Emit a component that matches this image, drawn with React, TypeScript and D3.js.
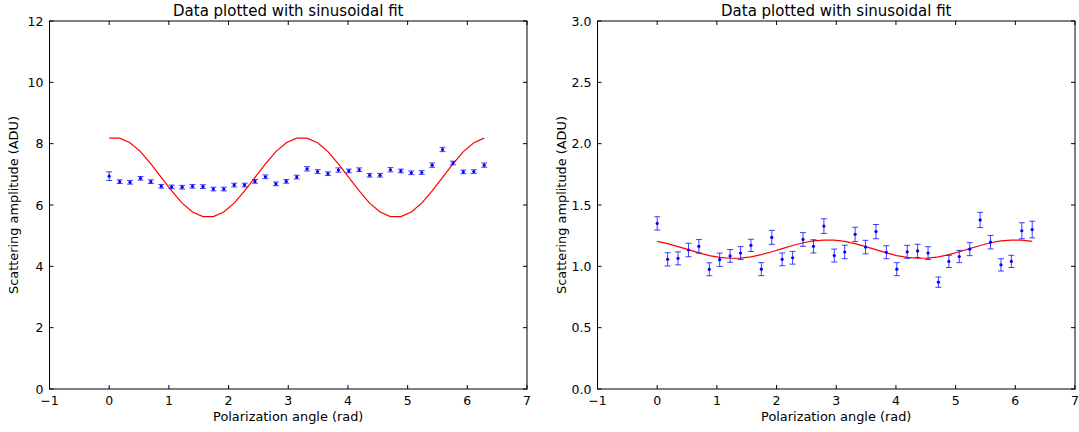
import React from "react";
import * as d3 from "d3";

// polarization angles, 10 degree steps (rad)
const angles = [
  0, 0.175, 0.349, 0.524, 0.698, 0.873, 1.047, 1.222, 1.396, 1.571, 1.745, 1.92,
  2.094, 2.269, 2.443, 2.618, 2.793, 2.967, 3.142, 3.316, 3.491, 3.665, 3.84,
  4.014, 4.189, 4.363, 4.538, 4.712, 4.887, 5.061, 5.236, 5.411, 5.585, 5.76,
  5.934, 6.109, 6.283,
];

const leftData = [
  6.94, 6.76, 6.74, 6.87, 6.76, 6.61, 6.59, 6.58, 6.61, 6.6, 6.52, 6.52, 6.65,
  6.65, 6.77, 6.92, 6.69, 6.77, 6.91, 7.18, 7.09, 7.02, 7.14, 7.11, 7.15, 6.97,
  6.97, 7.15, 7.11, 7.05, 7.06, 7.3, 7.81, 7.37, 7.08, 7.09, 7.3,
];
const leftErr = [
  0.14, 0.06, 0.06, 0.06, 0.06, 0.06, 0.06, 0.06, 0.06, 0.06, 0.06, 0.06, 0.06,
  0.06, 0.06, 0.06, 0.06, 0.06, 0.06, 0.07, 0.06, 0.06, 0.07, 0.06, 0.06, 0.06,
  0.06, 0.07, 0.06, 0.06, 0.06, 0.07, 0.07, 0.06, 0.06, 0.06, 0.07,
];
const leftFit = [
  8.18, 8.18, 8.03, 7.74, 7.34, 6.9, 6.46, 6.06, 5.77, 5.62, 5.62, 5.77, 6.06,
  6.46, 6.9, 7.34, 7.74, 8.03, 8.18, 8.18, 8.03, 7.74, 7.34, 6.9, 6.46, 6.06,
  5.77, 5.62, 5.62, 5.77, 6.06, 6.46, 6.9, 7.34, 7.74, 8.03, 8.18,
];

const rightData = [
  1.35, 1.057, 1.065, 1.133, 1.163, 0.976, 1.054, 1.085, 1.108, 1.171, 0.977,
  1.236, 1.057, 1.07, 1.219, 1.163, 1.328, 1.088, 1.117, 1.261, 1.157, 1.283,
  1.115, 0.977, 1.118, 1.126, 1.108, 0.871, 1.04, 1.08, 1.14, 1.378, 1.197,
  1.012, 1.04, 1.29, 1.3,
];
const rightErr = [
  0.054, 0.054, 0.053, 0.055, 0.055, 0.053, 0.054, 0.052, 0.053, 0.05, 0.053,
  0.057, 0.052, 0.052, 0.056, 0.054, 0.06, 0.053, 0.055, 0.058, 0.055, 0.058,
  0.053, 0.053, 0.053, 0.054, 0.052, 0.042, 0.05, 0.05, 0.053, 0.062, 0.055,
  0.05, 0.05, 0.065, 0.068,
];
const rightFit = [
  1.203, 1.185, 1.161, 1.136, 1.11, 1.088, 1.073, 1.066, 1.067, 1.077, 1.095,
  1.119, 1.144, 1.17, 1.192, 1.207, 1.214, 1.213, 1.203, 1.185, 1.161, 1.136,
  1.11, 1.088, 1.073, 1.066, 1.067, 1.077, 1.095, 1.119, 1.144, 1.17, 1.192,
  1.207, 1.214, 1.213, 1.203,
];

const xTicks = [-1, 0, 1, 2, 3, 4, 5, 6, 7];
const leftYTicks = [0, 2, 4, 6, 8, 10, 12];
const rightYTicks = [0, 0.5, 1, 1.5, 2, 2.5, 3];

const title = "Data plotted with sinusoidal fit";
const xLabel = "Polarization angle (rad)";
const yLabel = "Scattering amplitude (ADU)";

const W = 1079;
const H = 432;
const top = 21;
const bottom = 389;
const font = "DejaVu Sans, Verdana, sans-serif";

type PanelProps = {
  x0: number;
  x1: number;
  yMax: number;
  yTicks: number[];
  fmt: (v: number) => string;
  data: number[];
  err: number[];
  fit: number[];
};

const Panel = ({ x0, x1, yMax, yTicks, fmt, data, err, fit }: PanelProps) => {
  const x = d3.scaleLinear().domain([-1, 7]).range([x0, x1]);
  const y = d3.scaleLinear().domain([0, yMax]).range([bottom, top]);
  const line = d3
    .line<number>()
    .x((_, i) => x(angles[i]))
    .y((d) => y(d));
  const tl = 4;
  return (
    <g>
      <text
        x={(x0 + x1) / 2}
        y={16}
        textAnchor="middle"
        fontSize={15}
        fontFamily={font}
        fill="#000"
      >
        {title}
      </text>
      {/* fit */}
      <path d={line(fit) || ""} fill="none" stroke="#ff0000" strokeWidth={1.2} />
      {/* error bars */}
      {data.map((d, i) => {
        const cx = x(angles[i]);
        const ya = y(d - err[i]);
        const yb = y(d + err[i]);
        return (
          <g key={i} stroke="#0000ff" strokeOpacity={0.75} strokeWidth={1}>
            <line x1={cx} x2={cx} y1={ya} y2={yb} />
            <line x1={cx - 3} x2={cx + 3} y1={ya} y2={ya} />
            <line x1={cx - 3} x2={cx + 3} y1={yb} y2={yb} />
            <circle cx={cx} cy={y(d)} r={1.6} fill="#0000ff" stroke="none" />
          </g>
        );
      })}
      {/* frame */}
      <rect
        x={x0}
        y={top}
        width={x1 - x0}
        height={bottom - top}
        fill="none"
        stroke="#000"
        strokeWidth={1}
      />
      {xTicks.map((t) => (
        <g key={"x" + t}>
          <line x1={x(t)} x2={x(t)} y1={bottom} y2={bottom - tl} stroke="#000" />
          <line x1={x(t)} x2={x(t)} y1={top} y2={top + tl} stroke="#000" />
          <text
            x={x(t)}
            y={405}
            textAnchor="middle"
            fontSize={12.5}
            fontFamily={font}
            fill="#000"
          >
            {t < 0 ? "\u2212" + Math.abs(t) : t}
          </text>
        </g>
      ))}
      {yTicks.map((t) => (
        <g key={"y" + t}>
          <line x1={x0} x2={x0 + tl} y1={y(t)} y2={y(t)} stroke="#000" />
          <line x1={x1} x2={x1 - tl} y1={y(t)} y2={y(t)} stroke="#000" />
          <text
            x={x0 - 6}
            y={y(t) + 4.5}
            textAnchor="end"
            fontSize={12.5}
            fontFamily={font}
            fill="#000"
          >
            {fmt(t)}
          </text>
        </g>
      ))}
      <text
        x={(x0 + x1) / 2}
        y={421}
        textAnchor="middle"
        fontSize={12.9}
        fontFamily={font}
        fill="#000"
      >
        {xLabel}
      </text>
      <text
        transform={`translate(${x0 - 32},${(top + bottom) / 2}) rotate(-90)`}
        textAnchor="middle"
        fontSize={12.9}
        fontFamily={font}
        fill="#000"
      >
        {yLabel}
      </text>
    </g>
  );
};

export default function App() {
  return (
    <svg
      width={W}
      height={H}
      style={{ position: "absolute", left: 0, top: 0, background: "#fff" }}
    >
      <rect width={W} height={H} fill="#fff" />
      <Panel
        x0={49.5}
        x1={527}
        yMax={12}
        yTicks={leftYTicks}
        fmt={d3.format("d")}
        data={leftData}
        err={leftErr}
        fit={leftFit}
      />
      <Panel
        x0={597.5}
        x1={1075}
        yMax={3}
        yTicks={rightYTicks}
        fmt={d3.format(".1f")}
        data={rightData}
        err={rightErr}
        fit={rightFit}
      />
    </svg>
  );
}
